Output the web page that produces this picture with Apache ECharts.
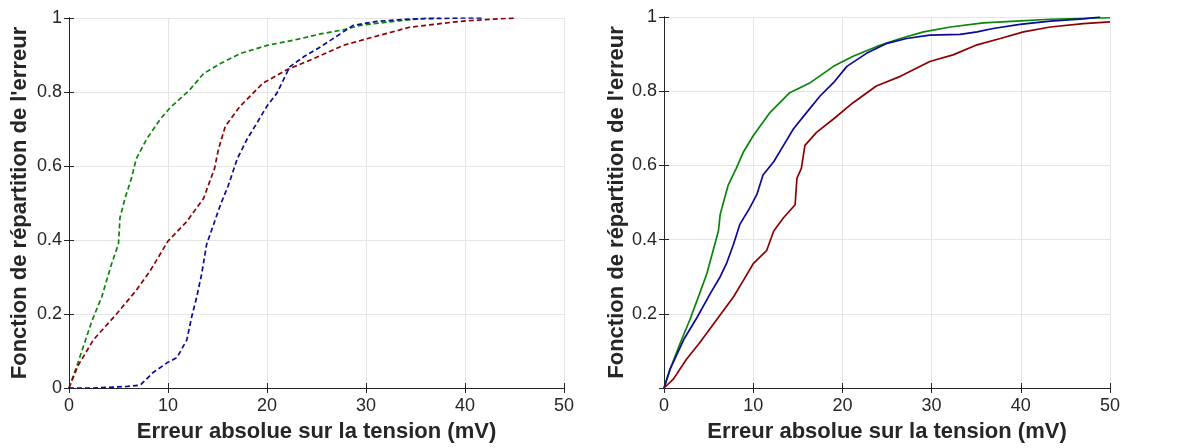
<!DOCTYPE html>
<html><head><meta charset="utf-8">
<script src="https://cdn.jsdelivr.net/npm/echarts@6/dist/echarts.min.js"></script>
<style>html,body{margin:0;padding:0;background:#fff}#c{width:1181px;height:448px}</style>
</head><body><div id="c"></div>
<script>
// Left panel (dashed curves): [error mV, CDF]
const leftGreen = [[0,0],[0.9,0.068],[2.3,0.18],[3.3,0.246],[4.3,0.335],[5.0,0.39],[5.15,0.46],[5.66,0.513],[6.3,0.566],[6.8,0.62],[7.85,0.673],[9.2,0.726],[10.2,0.757],[12.2,0.806],[13.6,0.85],[15.3,0.877],[17.3,0.904],[20.0,0.926],[22.7,0.94],[25.4,0.957],[27.7,0.968],[29.4,0.98],[32.8,0.991],[36.1,1.0],[37.5,1.0]];
const leftRed = [[0,0],[0.9,0.06],[2.46,0.13],[4.8,0.2],[6.8,0.264],[8.2,0.317],[10.0,0.397],[11.9,0.45],[13.6,0.513],[14.2,0.557],[14.7,0.593],[15.1,0.646],[15.8,0.708],[17.3,0.762],[19.6,0.824],[22.0,0.86],[24.7,0.89],[27.7,0.926],[30.1,0.944],[34.4,0.975],[39.5,0.991],[42.9,0.997],[45.2,1.0]];
const leftBlue = [[0,0],[2.5,0],[5.8,0.004],[7.2,0.008],[8.5,0.042],[9.9,0.068],[10.9,0.082],[11.9,0.13],[12.4,0.193],[12.9,0.246],[13.4,0.308],[13.9,0.388],[14.6,0.442],[15.3,0.495],[16.1,0.548],[17.0,0.62],[18.0,0.673],[19.0,0.717],[20.0,0.762],[21.0,0.797],[22.3,0.868],[23.7,0.895],[25.4,0.922],[27.4,0.957],[28.7,0.98],[31.1,0.991],[34.4,0.997],[39.5,1.0],[41.8,1.0]];
// Right panel (solid curves)
const rightGreen = [[0,0],[0.67,0.05],[1.8,0.12],[2.9,0.184],[4.0,0.255],[4.8,0.308],[5.5,0.37],[6.1,0.423],[6.3,0.468],[6.8,0.512],[7.2,0.547],[8.1,0.592],[8.9,0.636],[10.0,0.68],[11.9,0.743],[14.1,0.796],[16.4,0.823],[19.0,0.867],[21.2,0.894],[23.8,0.92],[26.5,0.942],[29.1,0.96],[32.1,0.973],[35.8,0.984],[39.5,0.989],[43.3,0.994],[50,0.998]];
const rightBlue = [[0,0],[0.67,0.05],[2.2,0.13],[3.7,0.19],[5.2,0.255],[6.3,0.3],[7.0,0.335],[7.8,0.388],[8.5,0.441],[9.6,0.485],[10.4,0.521],[11.1,0.574],[12.3,0.61],[13.4,0.654],[14.5,0.698],[16.0,0.743],[17.5,0.787],[19.0,0.823],[20.5,0.867],[22.7,0.902],[25.0,0.929],[27.2,0.942],[29.8,0.951],[33.2,0.953],[35.1,0.96],[36.9,0.969],[39.9,0.98],[43.3,0.989],[47.0,0.995],[48.9,1.0]];
const rightRed = [[0,0],[1.05,0.024],[2.5,0.077],[4.0,0.122],[5.9,0.184],[7.8,0.246],[8.9,0.29],[10.0,0.335],[11.5,0.37],[12.3,0.423],[13.4,0.459],[14.7,0.494],[14.9,0.565],[15.4,0.592],[15.8,0.654],[17.1,0.689],[19.0,0.725],[21.2,0.769],[23.8,0.814],[26.5,0.84],[29.8,0.88],[32.4,0.898],[35.1,0.925],[37.7,0.942],[40.3,0.96],[43.3,0.973],[47.0,0.982],[50,0.987]];
const xTicks = [0,10,20,30,40,50];
const yTicks = [0,0.2,0.4,0.6,0.8,1];
const xTitle = 'Erreur absolue sur la tension (mV)';
const yTitle = "Fonction de répartition de l'erreur";

const GREEN = '#0a850a', BLUE = '#0a0a9a', RED = '#8e0000';
const axisColor = '#262626';
const fontFam = 'Liberation Sans, Arial, sans-serif';

function mainX(gi) {
  return {gridIndex: gi, type:'value', min: xTicks[0], max: xTicks[xTicks.length-1], interval: 10,
    name: xTitle, nameLocation:'middle', nameGap: 33,
    nameTextStyle:{fontFamily:fontFam, fontWeight:'bold', fontSize:22, color:axisColor},
    axisLine:{lineStyle:{color:axisColor, width:1}},
    axisTick:{inside:true, length:5, lineStyle:{color:axisColor}},
    axisLabel:{fontFamily:fontFam, fontSize:18, color:axisColor, margin:9},
    splitLine:{show:true, lineStyle:{color:'#e5e5e5', width:1}}};
}
function mainY(gi, hideZero, gap) {
  return {gridIndex: gi, type:'value', min: yTicks[0], max: yTicks[yTicks.length-1], interval: 0.2,
    name: yTitle, nameLocation:'middle', nameGap: gap,
    nameTextStyle:{fontFamily:fontFam, fontWeight:'bold', fontSize:22, color:axisColor},
    axisLine:{show:true, lineStyle:{color:axisColor, width:1}},
    axisTick:{show:true, inside:true, length:5, lineStyle:{color:axisColor}},
    axisLabel:{fontFamily:fontFam, fontSize:18, color:axisColor, margin:7,
      formatter: v => (hideZero && v === 0) ? '' : String(+v.toFixed(1))},
    splitLine:{show:true, lineStyle:{color:'#e5e5e5', width:1}}};
}
function secX(gi) {
  return {gridIndex: gi, type:'value', position:'top', min:0, max:50, interval:10,
    axisLine:{show:true, lineStyle:{color:axisColor}}, axisTick:{show:true, inside:true, length:5, lineStyle:{color:axisColor}},
    axisLabel:{show:false}, splitLine:{show:false}};
}
function secY(gi) {
  return {gridIndex: gi, type:'value', position:'right', min:0, max:1, interval:0.2,
    axisLine:{show:true, lineStyle:{color:axisColor}}, axisTick:{show:true, inside:true, length:5, lineStyle:{color:axisColor}},
    axisLabel:{show:false}, splitLine:{show:false}};
}
function ser(xi, yi, data, color, dashed) {
  return {type:'line', xAxisIndex:xi, yAxisIndex:yi, data:data, showSymbol:false, symbol:'none', smooth:false,
    lineStyle:{color:color, width:1.7, type: dashed ? [5,3] : 'solid'}, animation:false, z:3};
}

const chart = echarts.init(document.getElementById('c'), null, {renderer:'canvas'});
chart.setOption({
  animation:false,
  backgroundColor:'#fff',
  grid:[{left:69, right:617, top:18, bottom:56, containLabel:false},
        {left:664, right:71, top:17, bottom:56, containLabel:false}],
  xAxis:[mainX(0), mainX(1), secX(0), secX(1)],
  yAxis:[mainY(0,false,38), mainY(1,true,33), secY(0), secY(1)],
  series:[
    ser(0,0,leftGreen,GREEN,true), ser(0,0,leftRed,RED,true), ser(0,0,leftBlue,BLUE,true),
    ser(1,1,rightGreen,GREEN,false), ser(1,1,rightBlue,BLUE,false), ser(1,1,rightRed,RED,false)
  ]
});
</script></body></html>
